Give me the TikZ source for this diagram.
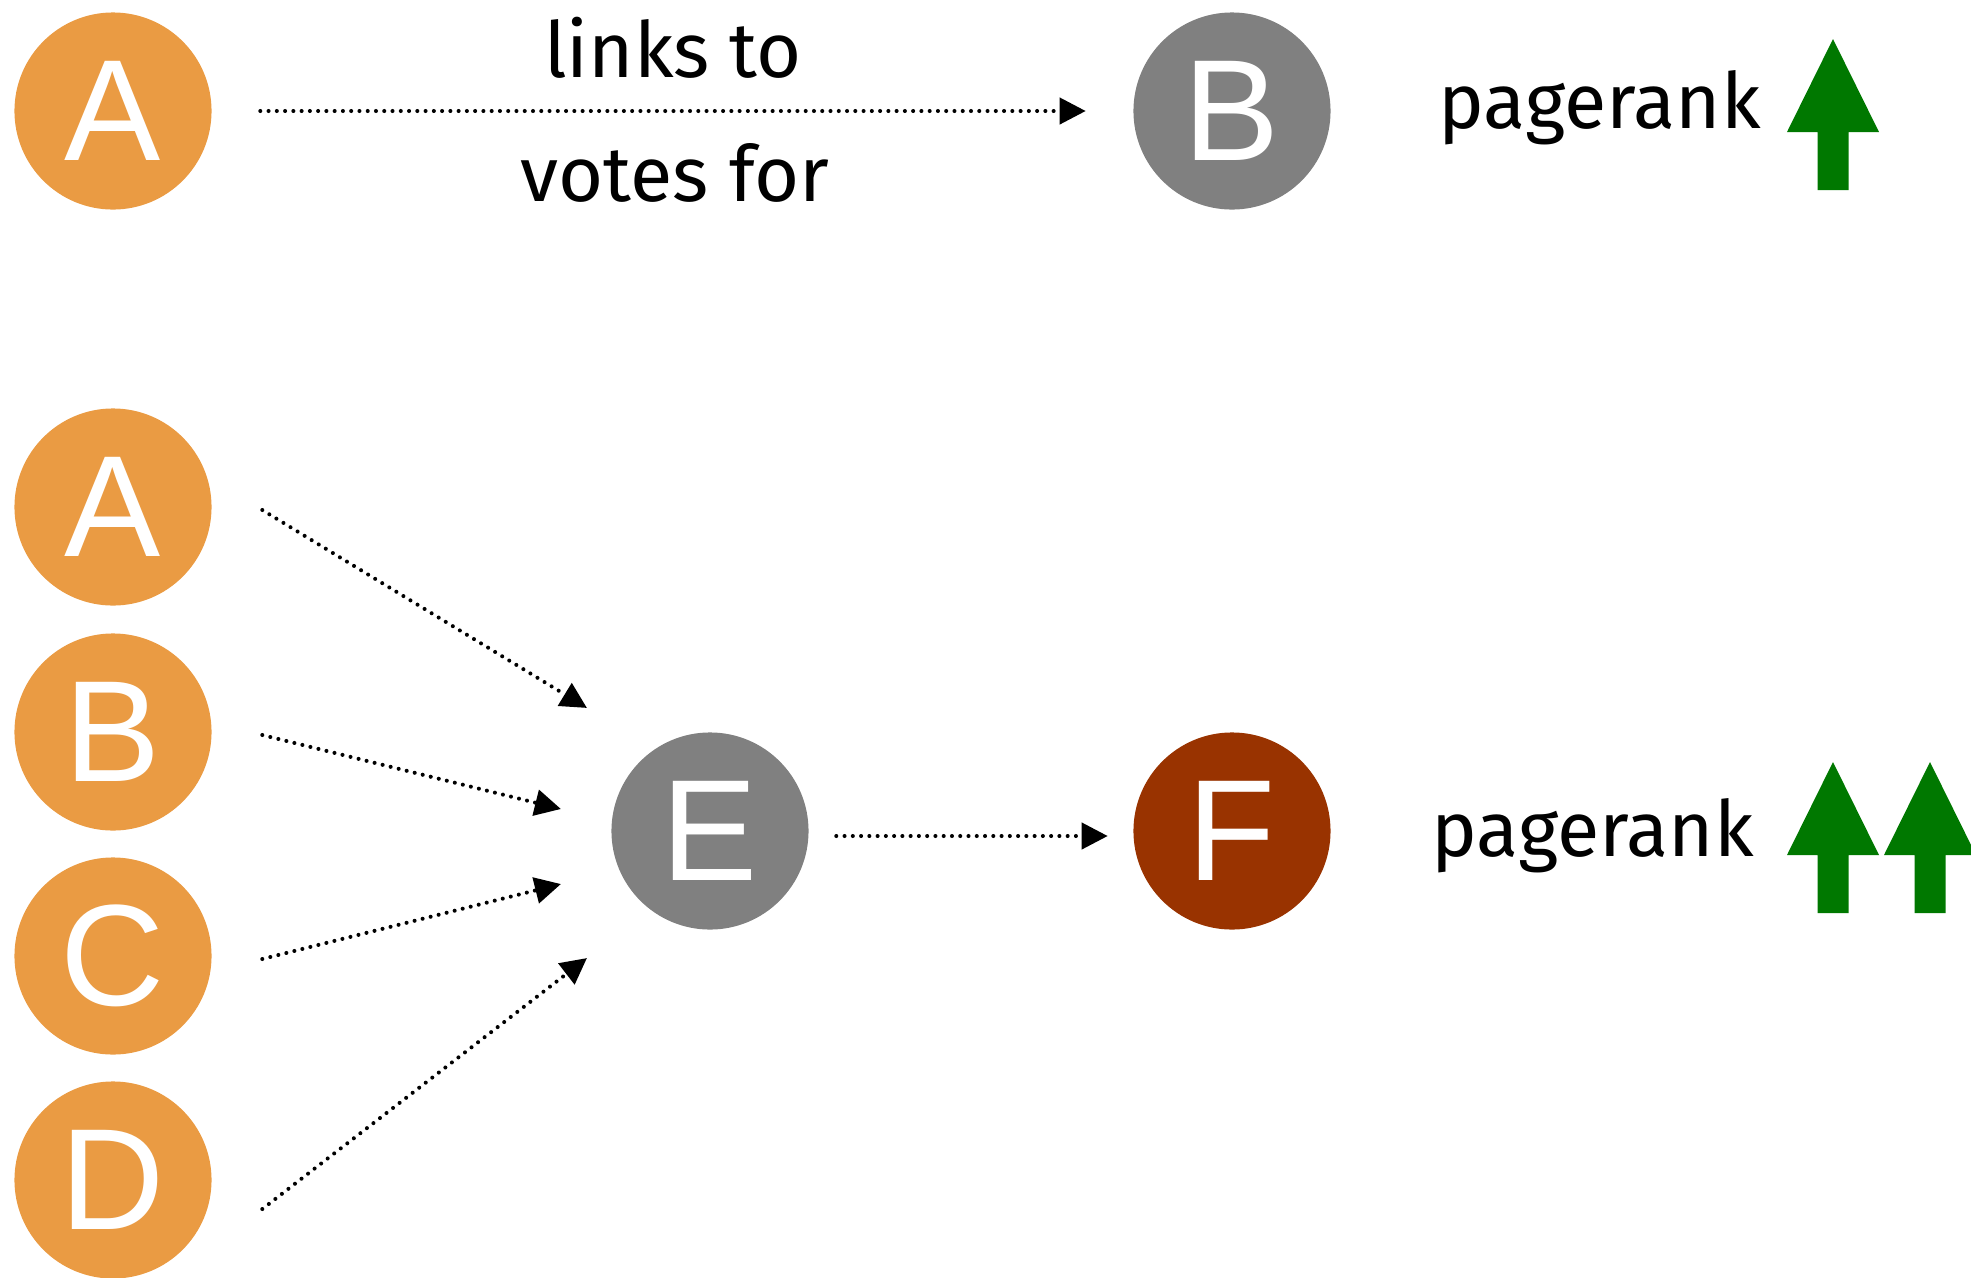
\documentclass[tikz,border=0pt]{standalone}
\usepackage{fontspec}
\setmainfont{Fira Sans}
\newfontfamily\letterfont{Liberation Sans}
\usetikzlibrary{arrows.meta}
\definecolor{pageorange}{RGB}{234,155,67}
\definecolor{pagegrey}{RGB}{128,128,128}
\definecolor{pagered}{RGB}{153,51,0}
\definecolor{rankgreen}{RGB}{0,120,0}

\begin{document}
\begin{tikzpicture}[x=0.01cm,y=-0.01cm,%pixel grid, origin top left
        page/.style={circle,minimum size=1.97cm,inner sep=0pt,text=white,
                font=\letterfont\fontsize{41}{41}\selectfont},
        vote/.style={line width=1.15pt,line cap=round,dash pattern=on 0pt off 2.35pt,
                -{Triangle[length=0.26cm,width=0.26cm]}},%dotted link
        txt/.style={inner sep=0pt,font=\fontsize{22}{26}\selectfont},
        up/.pic={\fill[rankgreen] (0,0) -- (46,93) -- (15.5,93) -- (15.5,151)
                -- (-15.5,151) -- (-15.5,93) -- (-46,93) -- cycle;}
                ]
\useasboundingbox (0,0) rectangle (1971,1278);
% one vote
\node[page,fill=pageorange] (a1) at (113,111) {A};
\node[page,fill=pagegrey]   (b1) at (1232,111) {B};
\draw[vote,shorten <=0.48cm,shorten >=0.47cm] (a1) -- (b1);
\node[txt,anchor=base] (links) at (673,77) {links to};
\node[txt,anchor=base] (votes) at (675,201) {votes for};
\node[txt,anchor=base west] (rank1) at (1438,128) {pagerank};
\pic (up1) at (1833,39) {up};
% many votes
\node[page,fill=pageorange] (a2) at (113,507) {A};
\node[page,fill=pageorange] (b2) at (113,732) {B};
\node[page,fill=pageorange] (c2) at (113,956) {C};
\node[page,fill=pageorange] (d2) at (113,1180) {D};
\node[page,fill=pagegrey]   (e)  at (710,831) {E};
\node[page,fill=pagered]    (f)  at (1232,831) {F};
\draw[vote] ([xshift=0.5cm,yshift=-0.03cm]a2.east) -- ([xshift=-1.23cm,yshift=1.23cm]e.center);
\draw[vote] ([xshift=0.5cm,yshift=-0.03cm]b2.east) -- ([xshift=-1.49cm,yshift=0.22cm]e.center);
\draw[vote] ([xshift=0.5cm,yshift=-0.03cm]c2.east) -- ([xshift=-1.49cm,yshift=-0.53cm]e.center);
\draw[vote] ([xshift=0.5cm,yshift=-0.29cm]d2.east) -- ([xshift=-1.23cm,yshift=-1.27cm]e.center);
\draw[vote,shorten <=0.27cm,shorten >=0.25cm] ([yshift=-0.05cm]e.east) -- ([yshift=-0.05cm]f.west);
\node[txt,anchor=base west] (rank2) at (1431,856) {pagerank};
\pic (up2) at (1833,762) {up};
\pic (up3) at (1930,762) {up};
\end{tikzpicture}
\end{document}
